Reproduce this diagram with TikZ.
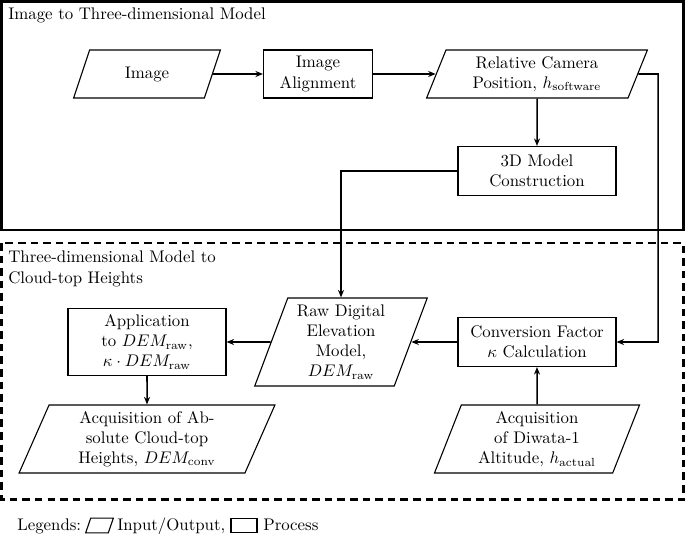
\documentclass[tikz,border=0pt]{standalone}
\usetikzlibrary{shapes.geometric,arrows.meta}
\newlength\pu
\setlength\pu{0.595pt}
\begin{document}
\begin{tikzpicture}[x=\pu,y=-\pu,
  proc/.style={draw, line width=0.65pt, align=center, inner sep=1pt},
  io/.style={draw, trapezium, trapezium left angle=70, trapezium right angle=110,
    trapezium stretches=true, align=center, inner sep=1pt, line width=0.65pt},
  arr/.style={-{Stealth[length=4.5pt,width=3.6pt]}, line width=0.9pt},
  frame/.style={line width=1.6pt},
  lbl/.style={inner sep=0pt}]
\useasboundingbox (0,0) rectangle (685,534);
% frames
\draw[frame] (1.5,1.5) rectangle (683.5,230);
\draw[frame, dash pattern=on 4.5pt off 3pt] (1.5,243) rectangle (683.5,499.5);
\node[lbl, anchor=base west] (t1) at (8,20) {Image to Three-dimensional Model};
\node[lbl, anchor=north west, align=left] (t2) at (8,251) {Three-dimensional Model to\\Cloud-top Heights};
% nodes
\node[io, minimum width=147*\pu, minimum height=48*\pu] (img) at (147,74) {Image};
\node[proc, minimum width=109*\pu, minimum height=48*\pu] (ia) at (318,74) {Image\\Alignment};
\node[io, minimum width=223*\pu, minimum height=48*\pu] (rcp) at (537,74) {Relative Camera\\Position, $h_{\mathrm{software}}$};
\node[proc, minimum width=158*\pu, minimum height=49*\pu] (md) at (537,171) {3D Model\\Construction};
\node[io, minimum width=173*\pu, minimum height=88*\pu] (raw) at (341,342) {Raw Digital\\Elevation\\Model,\\$DEM_{\mathrm{raw}}$};
\node[proc, minimum width=158*\pu, minimum height=49*\pu] (conv) at (537,342) {Conversion Factor\\$\kappa$ Calculation};
\node[proc, minimum width=158*\pu, minimum height=67*\pu] (app) at (147,342) {Application\\to $DEM_{\mathrm{raw}}$,\\$\kappa\cdot DEM_{\mathrm{raw}}$};
\node[io, minimum width=256*\pu, minimum height=68*\pu] (acq) at (147,439) {Acquisition of Ab-\\solute Cloud-top\\Heights, $DEM_{\mathrm{conv}}$};
\node[io, minimum width=206*\pu, minimum height=68*\pu] (diw) at (537,439) {Acquisition\\of Diwata-1\\Altitude, $h_{\mathrm{actual}}$};
% connectors
\coordinate (r1) at (658,74);
\draw[arr] (img.east) -- (ia.west);
\draw[arr] (ia.east) -- (rcp.west);
\draw[arr] (rcp.south) -- (md.north);
\draw[arr] (rcp.east) -- (r1) |- (conv.east);
\draw[arr] (md.west) -| (raw.north);
\draw[arr] (conv.west) -- (raw.east);
\draw[arr] (raw.west) -- (app.east);
\draw[arr] (app.south) -- (acq.north);
\draw[arr] (diw.north) -- (conv.south);
% legend
\node[lbl, anchor=base west] (leg) at (17,530) {Legends:};
\node[inner sep=0pt, minimum width=27*\pu, minimum height=14*\pu] (legio) at (99.5,525.5) {};
\draw[line width=0.65pt] ([xshift=3pt]legio.north west) -- (legio.north east)
  -- ([xshift=-3pt]legio.south east) -- (legio.south west) -- cycle;
\node[lbl, anchor=base west] (legiot) at (117,530) {Input/Output,};
\node[draw, inner sep=0pt, line width=0.65pt, minimum width=26*\pu, minimum height=14*\pu] (legp) at (244,525.5) {};
\node[lbl, anchor=base west] (legpt) at (263,530) {Process};
\end{tikzpicture}
\end{document}
